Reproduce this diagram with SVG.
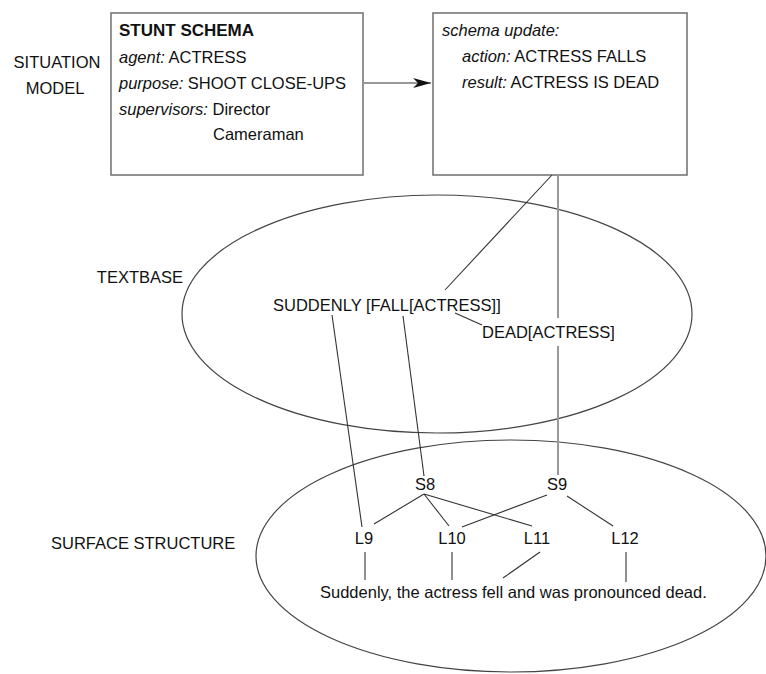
<svg xmlns="http://www.w3.org/2000/svg" width="766" height="674" viewBox="0 0 766 674">
<style>
text{font-family:"Liberation Sans",Arial,Helvetica,sans-serif;font-size:16.5px;fill:#111}
.b{font-weight:bold;font-size:17px}
.i{font-style:italic}
.box{fill:#fff;stroke:#777;stroke-width:1.6}
.ell{fill:none;stroke:#444;stroke-width:1.2}
.c{stroke:#333;stroke-width:1.1;fill:none}
.g{stroke:#999;stroke-width:2;fill:none}
</style>
<defs>
<marker id="ah" markerWidth="18" markerHeight="10" refX="18" refY="5" orient="auto" markerUnits="userSpaceOnUse">
<path d="M0,0 L18,5 L0,10 L5,5 z" fill="#111"/>
</marker>
</defs>
<rect width="766" height="674" fill="#fff"/>

<g id="situation-label">
<text x="57" y="68" text-anchor="middle">SITUATION</text>
<text x="55" y="94" text-anchor="middle">MODEL</text>
</g>

<g id="stunt-schema">
<rect class="box" x="111" y="13" width="252" height="162"/>
<text class="b" x="119" y="36">STUNT SCHEMA</text>
<text x="119" y="63"><tspan class="i">agent:</tspan> ACTRESS</text>
<text x="119" y="89"><tspan class="i">purpose:</tspan> SHOOT CLOSE-UPS</text>
<text x="119" y="115"><tspan class="i">supervisors:</tspan> Director</text>
<text x="213" y="140">Cameraman</text>
</g>

<g id="schema-update">
<rect class="box" x="433" y="13" width="254" height="162"/>
<text class="i" x="442" y="36">schema update:</text>
<text x="462" y="62"><tspan class="i">action:</tspan> ACTRESS FALLS</text>
<text x="462" y="88"><tspan class="i">result:</tspan> ACTRESS IS DEAD</text>
</g>

<g id="textbase">
<ellipse class="ell" cx="437" cy="314" rx="255" ry="119"/>
<text x="183" y="283" text-anchor="end">TEXTBASE</text>
</g>
<g id="prop-suddenly"><text x="273" y="311">SUDDENLY [FALL[ACTRESS]]</text></g>
<g id="prop-dead"><text x="482" y="338">DEAD[ACTRESS]</text></g>

<g id="surface">
<ellipse class="ell" cx="511" cy="556" rx="255" ry="116"/>
<text x="51" y="549">SURFACE STRUCTURE</text>
</g>
<g id="S8"><text x="425" y="490" text-anchor="middle">S8</text></g>
<g id="S9"><text x="557" y="490" text-anchor="middle">S9</text></g>
<g id="L9"><text x="364" y="544" text-anchor="middle">L9</text></g>
<g id="L10"><text x="452" y="544" text-anchor="middle">L10</text></g>
<g id="L11"><text x="537" y="544" text-anchor="middle">L11</text></g>
<g id="L12"><text x="625" y="544" text-anchor="middle">L12</text></g>
<g id="sentence"><text x="320" y="598">Suddenly, the actress fell and was pronounced dead.</text></g>

<g id="connectors">
<line class="g" x1="363" y1="83" x2="431" y2="83" marker-end="url(#ah)"/>
<line class="c" x1="552" y1="175" x2="445" y2="290"/>
<line class="g" x1="558" y1="175" x2="558" y2="318"/>
<line class="g" x1="558" y1="346" x2="558" y2="475"/>
<line class="c" x1="455" y1="313" x2="482" y2="325"/>
<line class="c" x1="332" y1="315" x2="362" y2="527"/>
<line class="c" x1="403" y1="316" x2="424" y2="476"/>
<line class="c" x1="424" y1="494" x2="374" y2="524"/>
<line class="c" x1="424" y1="494" x2="449" y2="526"/>
<line class="c" x1="424" y1="494" x2="532" y2="526"/>
<line class="c" x1="547" y1="495" x2="462" y2="527"/>
<line class="c" x1="567" y1="496" x2="613" y2="526"/>
<line class="c" x1="365" y1="552" x2="365" y2="580"/>
<line class="c" x1="452" y1="552" x2="452" y2="580"/>
<line class="c" x1="540" y1="552" x2="503" y2="578"/>
<line class="c" x1="626" y1="552" x2="626" y2="582"/>
</g>
</svg>
